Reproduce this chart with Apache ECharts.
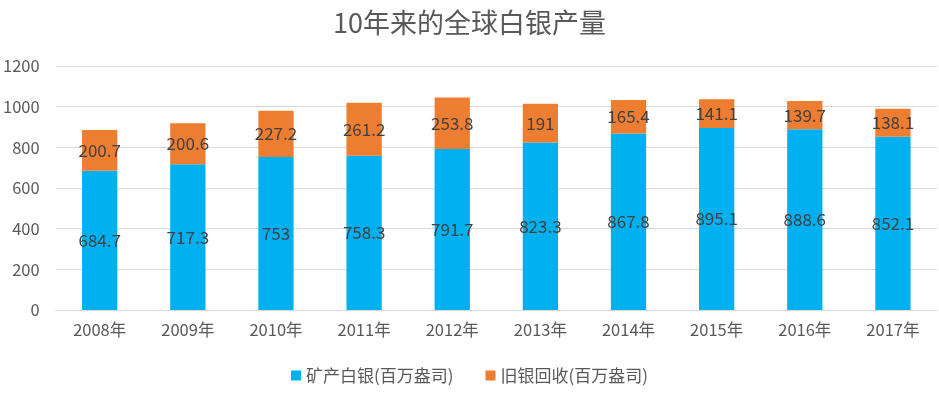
<!DOCTYPE html>
<html><head><meta charset="utf-8">
<script src="https://cdn.jsdelivr.net/npm/echarts@6/dist/echarts.min.js"></script>
<style>html,body{margin:0;padding:0;background:#fff}#c{width:939px;height:395px}</style>
</head><body><div id="c"></div>
<script>
const categories = ['2008年','2009年','2010年','2011年','2012年','2013年','2014年','2015年','2016年','2017年'];
const mineSilver = [684.7,717.3,753,758.3,791.7,823.3,867.8,895.1,888.6,852.1];
const recycledSilver = [200.7,200.6,227.2,261.2,253.8,191,165.4,141.1,139.7,138.1];
const seriesNames = ['矿产白银(百万盎司)','旧银回收(百万盎司)'];
const titleText = '10年来的全球白银产量';
const font = '"Microsoft YaHei","Noto Sans CJK SC","DejaVu Sans",sans-serif';
const chart = echarts.init(document.getElementById('c'), null, {renderer:'canvas'});
const lbl = {show:true, position:'inside', color:'#404040', fontSize:17, fontFamily:font};
chart.setOption({
  animation:false,
  title:{text:titleText,left:'center',top:4,textStyle:{fontSize:27,fontWeight:'normal',color:'#595959',fontFamily:font}},
  legend:{bottom:6,left:'center',itemWidth:10,itemHeight:10,itemGap:32,icon:'rect',
    textStyle:{fontSize:17,color:'#595959',fontFamily:font},data:seriesNames},
  grid:{left:54,right:2,top:66,bottom:85},
  xAxis:{type:'category',data:categories,axisTick:{show:false},
    axisLine:{lineStyle:{color:'#d9d9d9'}},
    axisLabel:{color:'#595959',fontSize:16.5,fontFamily:font,margin:11}},
  yAxis:{type:'value',min:0,max:1200,interval:200,
    axisLabel:{color:'#595959',fontSize:16.5,fontFamily:font,margin:16,formatter:v=>String(v)},
    splitLine:{lineStyle:{color:'#d9d9d9'}}},
  series:[
    {name:seriesNames[0],type:'bar',stack:'a',data:mineSilver,barWidth:'40%',itemStyle:{color:'#00B0F0'},label:lbl},
    {name:seriesNames[1],type:'bar',stack:'a',data:recycledSilver,barWidth:'40%',itemStyle:{color:'#ED7D31'},label:lbl}
  ]
});
</script></body></html>
